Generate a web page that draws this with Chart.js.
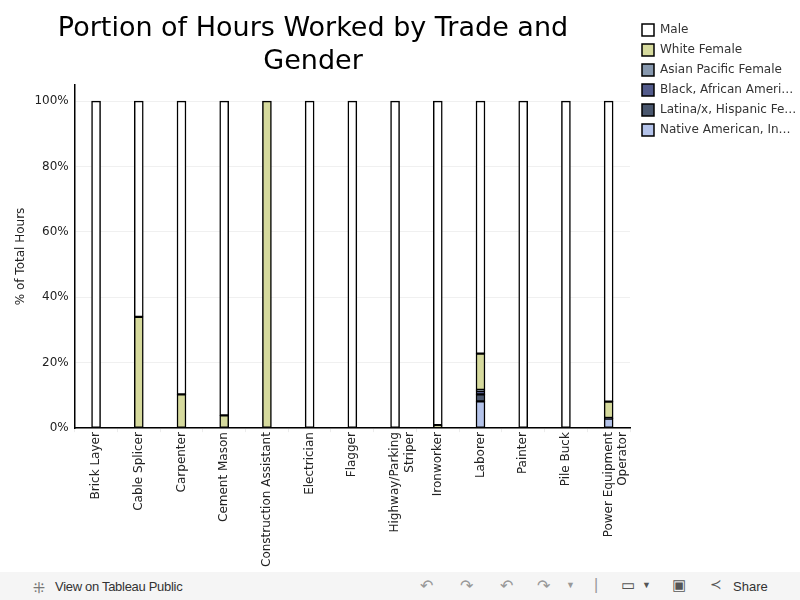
<!DOCTYPE html>
<html>
<head>
<meta charset="utf-8">
<script src="https://cdn.jsdelivr.net/npm/chart.js@4/dist/chart.umd.min.js"></script>
<style>
  html, body { margin: 0; padding: 0; background: #fff; width: 800px; height: 600px; overflow: hidden; font-family: "DejaVu Sans", sans-serif; }
  #wrap { position: absolute; left: 0; top: 0; width: 800px; height: 573px; }
  #footer { position: absolute; left: 0; top: 572px; width: 800px; height: 28px; background: #f5f5f5; color: #333; font-family: "Liberation Sans", Arial, sans-serif; font-size: 13px; }
  #footer span { position: absolute; top: 7px; }
  .ic { color: #999; font-size: 16px; }
</style>
</head>
<body>
<div id="wrap"><canvas id="c" width="800" height="573"></canvas></div>
<div id="footer">
  <span style="left:33px;color:#777;font-size:15px;top:5px">⁜</span>
  <span style="left:55px;letter-spacing:-0.3px">View on Tableau Public</span>
  <span class="ic" style="left:420px;top:4px">↶</span>
  <span class="ic" style="left:460px;top:4px">↷</span>
  <span class="ic" style="left:500px;top:4px">↶</span>
  <span class="ic" style="left:537px;top:4px">↷</span>
  <span class="ic" style="left:566px;top:8px;font-size:9px">▼</span>
  <span class="ic" style="left:594px;top:4px">|</span>
  <span style="left:621px;top:4px;font-size:15px;color:#555">▭</span>
  <span style="left:642px;top:8px;font-size:9px;color:#555">▼</span>
  <span style="left:672px;top:4px;font-size:15px;color:#555">▣</span>
  <span style="left:710px;top:4px;font-size:14px;color:#555">≺</span>
  <span style="left:733px">Share</span>
</div>
<script>
const categories = ["Brick Layer", "Cable Splicer", "Carpenter", "Cement Mason", "Construction Assistant", "Electrician", "Flagger", ["Highway/Parking", "Striper"], "Ironworker", "Laborer", "Painter", "Pile Buck", ["Power Equipment", "Operator"]];
const whiteFemale   = [0, 34.0, 10.3, 3.9, 100, 0, 0, 0, 0.9, 11.1, 0, 0, 5.0];
const asianPacific  = [0, 0, 0, 0, 0, 0, 0, 0, 0, 0.3, 0, 0, 0];
const blackAfrican  = [0, 0, 0, 0, 0, 0, 0, 0, 0, 1.1, 0, 0, 0.2];
const latinaHispanic= [0, 0, 0, 0, 0, 0, 0, 0, 0, 2.1, 0, 0, 0];
const nativeAmerican= [0, 0, 0, 0, 0, 0, 0, 0, 0, 8.2, 0, 0, 2.9];
const male = categories.map((c, i) => 100 - whiteFemale[i] - asianPacific[i] - blackAfrican[i] - latinaHispanic[i] - nativeAmerican[i]);
const yTicks = [0, 20, 40, 60, 80, 100];

const series = [
  { label: "Native American, In…", data: nativeAmerican, color: "#b4c3ea" },
  { label: "Latina/x, Hispanic Fe…", data: latinaHispanic, color: "#4a576e" },
  { label: "Black, African Ameri…", data: blackAfrican, color: "#535b8b" },
  { label: "Asian Pacific Female", data: asianPacific, color: "#8798ae" },
  { label: "White Female", data: whiteFemale, color: "#d6da9d" },
  { label: "Male", data: male, color: "#ffffff" }
];

const placeBoxes = {
  id: 'placeBoxes',
  afterLayout(chart) {
    const t = chart.titleBlock;
    if (t) { t.left = 0; t.right = 626; t.width = 626; }
    const l = chart.legend;
    if (l) { l.left += 4; l.right += 4; l.top += 16; l.bottom += 16; }
  }
};

new Chart(document.getElementById('c'), {
  type: 'bar',
  data: {
    labels: categories,
    datasets: series.map(s => ({
      label: s.label,
      data: s.data.map(v => v > 0 ? v : null),
      backgroundColor: s.color,
      borderColor: '#000',
      borderWidth: 1.5,
      borderSkipped: false,
      barThickness: 9
    }))
  },
  plugins: [placeBoxes],
  options: {
    responsive: false,
    animation: false,
    layout: { padding: { left: 10, right: 0, top: 0, bottom: 6 } },
    plugins: {
      title: {
        display: true,
        fullSize: false,
        text: ["Portion of Hours Worked by Trade and", "Gender"],
        font: { family: "DejaVu Sans", size: 27, weight: 'normal', lineHeight: 1.2 },
        color: '#000',
        padding: { top: 13, bottom: 7 }
      },
      legend: {
        position: 'right',
        align: 'start',
        reverse: true,
        maxWidth: 170,
        labels: {
          boxWidth: 12,
          boxHeight: 12,
          padding: 8,
          color: '#333',
          font: { family: "DejaVu Sans", size: 12 }
        }
      },
      tooltip: { enabled: false }
    },
    scales: {
      x: {
        stacked: true,
        grid: { display: true, drawOnChartArea: false, offset: true, color: '#ececec', tickLength: 4 },
        border: { color: '#000', width: 1.5 },
        ticks: {
          maxRotation: 90, minRotation: 90,
          padding: 0,
          color: '#222',
          font: { family: "DejaVu Sans", size: 12 },
          autoSkip: false
        }
      },
      y: {
        stacked: true,
        min: 0, max: 105,
        border: { color: '#000', width: 1.5 },
        grid: {
          color: ctx => (ctx.tick && yTicks.includes(ctx.tick.value)) ? '#f0f0f0' : 'transparent',
          drawTicks: false
        },
        ticks: {
          stepSize: 20,
          color: '#222',
          padding: 6,
          font: { family: "DejaVu Sans", size: 12 },
          callback: v => yTicks.includes(v) ? v + '%' : ''
        },
        title: {
          display: true,
          text: '% of Total Hours',
          color: '#222',
          padding: { top: 4, bottom: 0 },
          font: { family: "DejaVu Sans", size: 12 }
        }
      }
    }
  }
});
</script>
</body>
</html>
